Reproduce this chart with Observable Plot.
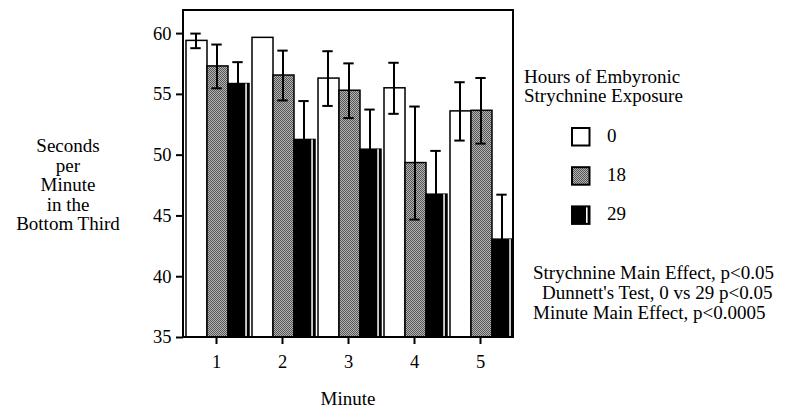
<!DOCTYPE html>
<html><head><meta charset="utf-8">
<script src="https://cdn.jsdelivr.net/npm/d3@7"></script>
<script src="https://cdn.jsdelivr.net/npm/@observablehq/plot@0.6"></script>
<style>
html,body{margin:0;padding:0;background:#fff;}
#chart{position:relative;width:788px;height:414px;}
#chart svg, #chart svg text{font-family:"Liberation Serif","DejaVu Serif",serif !important;}
svg text{fill:#000;}
svg g[aria-label$="tick"] path{stroke-width:2;}
</style></head><body><div id="chart"></div>
<script>
const minutes = [1, 2, 3, 4, 5];
const hours = ["0", "18", "29"];
const mean0 = [59.4, 59.65, 56.3, 55.5, 53.6];
const mean18 = [57.3, 56.55, 55.3, 49.35, 53.65];
const mean29 = [55.85, 51.25, 50.45, 46.75, 43.05];
const sem0 = [0.6, 0, 2.25, 2.1, 2.4];
const sem18 = [1.8, 2.05, 2.25, 4.65, 2.7];
const sem29 = [1.8, 3.2, 3.3, 3.6, 3.7];
const yTicks = [35, 40, 45, 50, 55, 60];
const yLabelLines = ["Seconds", "per", "Minute", "in the", "Bottom Third"];
const legendTitle = ["Hours of Embyronic", "Strychnine Exposure"];
const notes = ["Strychnine Main Effect, p<0.05", "Dunnett's Test, 0 vs 29 p<0.05", "Minute Main Effect, p<0.0005"];
const xLabel = "Minute";

const means = {"0": mean0, "18": mean18, "29": mean29};
const sems = {"0": sem0, "18": sem18, "29": sem29};
const data = minutes.flatMap((m, i) => hours.map(h => ({minute: m, hours: h, mean: means[h][i], sem: sems[h][i]})));
const errData = data.filter(d => d.sem > 0);

const plot = Plot.plot({
  width: 788, height: 414,
  marginLeft: 183, marginRight: 275, marginTop: 10, marginBottom: 77,
  style: {fontFamily: "Liberation Serif", fontSize: "18.5px", color: "black", background: "white", overflow: "visible"},
  fx: {domain: minutes, padding: 0, label: null, tickSize: 7, tickPadding: 10, axis: "bottom"},
  x: {domain: hours, paddingInner: 0, paddingOuter: 0.07, align: 1, axis: null},
  y: {domain: [35, 61.9], ticks: yTicks, tickSize: 7, tickPadding: 5, label: null},
  color: {domain: hours, range: ["white", "url(#stip)", "black"]},
  marks: [
    Plot.barY(data, {fx: "minute", x: "hours", y1: 35, y2: "mean", fill: "hours", stroke: "black", strokeWidth: 1.5}),
    Plot.barY(data.filter(d => d.hours === "29"), {fx: "minute", x: "hours", y1: 35, y2: "mean", fill: "white", insetLeft: 17.3, insetRight: 2.2}),
    Plot.ruleX(errData, {fx: "minute", x: "hours", y1: d => d.mean - d.sem, y2: d => d.mean + d.sem, stroke: "black", strokeWidth: 2, dx: -1}),
    Plot.tickY(errData, {fx: "minute", x: "hours", y: d => d.mean + d.sem, stroke: "black", strokeWidth: 2, insetLeft: 5.3, insetRight: 5.3, dx: -1}),
    Plot.tickY(errData, {fx: "minute", x: "hours", y: d => d.mean - d.sem, stroke: "black", strokeWidth: 2, insetLeft: 5.3, insetRight: 5.3, dx: -1})
  ]
});

const svg = d3.select(plot).attr("font-family", "Liberation Serif");
const defs = svg.insert("defs", ":first-child");
const pat = defs.append("pattern").attr("id", "stip").attr("width", 2).attr("height", 2).attr("patternUnits", "userSpaceOnUse");
pat.append("rect").attr("width", 2).attr("height", 2).attr("fill", "#b4b4b4");
pat.append("rect").attr("width", 1).attr("height", 1).attr("fill", "#555");
pat.append("rect").attr("x", 1).attr("y", 1).attr("width", 1).attr("height", 1).attr("fill", "#555");

const fxR = plot.scale("fx").range, yR = plot.scale("y").range;
svg.append("rect")
  .attr("x", Math.min(...fxR)).attr("y", Math.min(...yR))
  .attr("width", Math.abs(fxR[1] - fxR[0])).attr("height", Math.abs(yR[1] - yR[0]))
  .attr("fill", "none").attr("stroke", "black").attr("stroke-width", 2);

const g = svg.append("g").attr("font-size", 19).attr("font-family", "Liberation Serif").attr("text-anchor", "start");
g.selectAll("text.yl").data(yLabelLines).join("text")
  .attr("x", 68).attr("y", (d, i) => 152 + i * 19.5).attr("text-anchor", "middle").text(d => d);
g.selectAll("text.lt").data(legendTitle).join("text")
  .attr("x", 524).attr("y", (d, i) => 83 + i * 19).text(d => d);
const color = plot.scale("color");
hours.forEach((h, i) => {
  const y0 = 128 + i * 39.2;
  g.append("rect").attr("x", 572).attr("y", y0).attr("width", 17.5).attr("height", 17.5)
    .attr("fill", color.apply(h)).attr("stroke", "black").attr("stroke-width", 2);
  if (h === "29") g.append("rect").attr("x", 586).attr("y", y0 + 1).attr("width", 1.6).attr("height", 15.5).attr("fill", "white");
  g.append("text").attr("x", 607).attr("y", y0 + 14).text(h);
});
g.selectAll("text.nt").data(notes).join("text")
  .attr("x", (d, i) => i === 1 ? 542 : 533).attr("y", (d, i) => 279 + i * 20).text(d => d);
g.append("text").attr("x", 348).attr("y", 405).attr("text-anchor", "middle").text(xLabel);

document.getElementById("chart").appendChild(plot);
</script></body></html>
